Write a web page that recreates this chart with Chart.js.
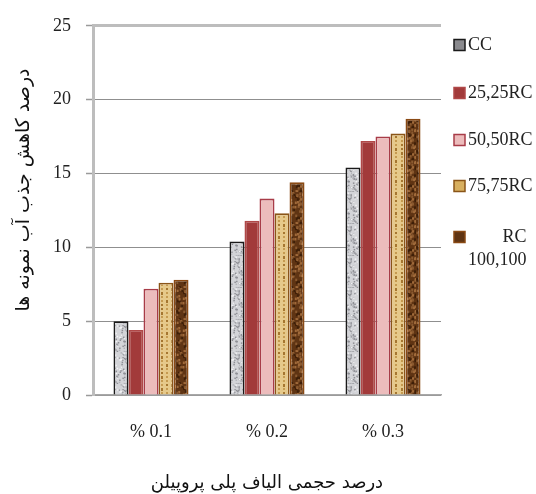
<!DOCTYPE html>
<html>
<head>
<meta charset="utf-8">
<script src="https://cdn.jsdelivr.net/npm/chart.js@4/dist/chart.umd.min.js"></script>
<style>
  html, body { margin: 0; padding: 0; background: #fff; }
  #wrap { width: 536px; height: 494px; }
</style>
</head>
<body>
<div id="wrap"><canvas id="c" width="536" height="494"></canvas></div>
<script>
// Fibre volume fractions (x categories)
const categories = ['% 0.1', '% 0.2', '% 0.3'];
// Mix names and the way each is written in the legend
const seriesNames = ['CC', '25,25RC', '50,50RC', '75,75RC', '100,100RC'];
const legendText = [['CC'], ['25,25RC'], ['50,50RC'], ['75,75RC'], ['RC', '100,100']];
// Reduction in water absorption (%) per mix
const ccValues     = [5.0, 10.4, 15.4];
const rc25Values   = [4.4, 11.8, 17.2];
const rc50Values   = [7.2, 13.3, 17.5];
const rc75Values   = [7.6, 12.3, 17.7];
const rc100Values  = [7.8, 14.4, 18.7];
const yTicks = [0, 5, 10, 15, 20, 25];

const xTitle = 'درصد حجمی الیاف پلی پروپیلن';
const yTitle = 'درصد کاهش جذب آب نمونه ها';

const serif = '"Liberation Serif", "Times New Roman", serif';
const persian = '"DejaVu Sans", "Noto Sans", sans-serif';

// Small deterministic hash used to scatter texture specks
function hash(i) {
  const v = Math.sin(i * 127.1 + 311.7) * 43758.5453;
  return v - Math.floor(v);
}

// Tileable textures for the bar fills
function texture(kind) {
  const w = 16, h = 32;
  const c = document.createElement('canvas');
  c.width = w; c.height = h;
  const g = c.getContext('2d');
  if (kind === 'granite') {
    g.fillStyle = '#d3d4d8'; g.fillRect(0, 0, w, h);
    for (let i = 0; i < 90; i++) {
      const x = hash(i) * w, y = hash(i + 500) * h, t = hash(i + 900);
      g.fillStyle = t < 0.45 ? '#8e8f95' : (t < 0.75 ? '#b2b3b8' : '#f4f4f6');
      g.fillRect(x, y, 1.5, 1.5);
    }
  } else if (kind === 'gold') {
    g.fillStyle = '#e6c98a'; g.fillRect(0, 0, w, h);
    for (let y = 0; y < h; y += 4) {
      for (let x = 1; x < w; x += 5) {
        const t = hash(x * 31 + y);
        g.fillStyle = t < 0.5 ? '#a57630' : '#c59a50';
        g.fillRect(x, y, 2, 2 + (t < 0.3 ? 1 : 0));
      }
    }
  } else if (kind === 'wood') {
    g.fillStyle = '#5f3413'; g.fillRect(0, 0, w, h);
    for (let i = 0; i < 70; i++) {
      const x = hash(i + 40) * w, y = hash(i + 640) * h, t = hash(i + 1200);
      g.fillStyle = t < 0.4 ? '#8a5a30' : (t < 0.7 ? '#3e1f08' : '#a06a3a');
      g.fillRect(x, y, 2, 2.5);
    }
  }
  return g.createPattern(c, 'repeat');
}

const fills = [texture('granite'), '#a23a3a', '#ecbcbc', texture('gold'), texture('wood')];
const borders = ['#1a1a1a', '#b04848', '#a83c48', '#8a5518', '#8a4a14'];
const swatchFills = ['#8a8a8e', '#a23a3a', '#ecbcbc', '#d8b060', '#5f3413'];
const values = [ccValues, rc25Values, rc50Values, rc75Values, rc100Values];

const datasets = seriesNames.map((name, i) => ({
  label: name,
  data: values[i],
  backgroundColor: fills[i],
  borderColor: borders[i],
  borderWidth: 1.8,
  borderSkipped: 'bottom',
  barPercentage: 1,
  categoryPercentage: 0.647
}));

// Legend column on the right and the vertical Persian axis title
const sideText = {
  id: 'sideText',
  afterDraw(chart) {
    const ctx = chart.ctx;
    ctx.save();
    const rowY = [45, 93, 140, 186, 237];
    const boxX = 454, boxS = 11, textX = 468;
    ctx.font = '18px ' + serif;
    ctx.textBaseline = 'middle';
    chart.data.datasets.forEach((ds, i) => {
      const y = rowY[i];
      ctx.fillStyle = swatchFills[i];
      ctx.fillRect(boxX, y - boxS / 2, boxS, boxS);
      ctx.lineWidth = 1.5;
      ctx.strokeStyle = borders[i];
      ctx.strokeRect(boxX, y - boxS / 2, boxS, boxS);
      const lines = legendText[i];
      ctx.fillStyle = '#222';
      if (lines.length === 1) {
        ctx.textAlign = 'left';
        ctx.fillText(lines[0], textX, y);
      } else {
        const wMax = Math.max(...lines.map(l => ctx.measureText(l).width));
        ctx.textAlign = 'right';
        lines.forEach((l, k) => ctx.fillText(l, textX + wMax, y + k * 23));
      }
    });
    // y axis title, rotated
    ctx.translate(24, 190);
    ctx.rotate(-Math.PI / 2);
    ctx.textAlign = 'center';
    ctx.textBaseline = 'middle';
    ctx.font = '19px ' + persian;
    ctx.fillStyle = '#111';
    ctx.fillText(yTitle, 0, 0);
    ctx.restore();
  }
};

new Chart(document.getElementById('c'), {
  type: 'bar',
  data: { labels: categories, datasets },
  plugins: [sideText],
  options: {
    responsive: false,
    animation: false,
    devicePixelRatio: 1,
    layout: { padding: { top: 24, right: 95, left: 0, bottom: 0 } },
    plugins: { legend: { display: false }, tooltip: { enabled: false } },
    scales: {
      x: {
        afterFit(s) { s.height = 99; },
        grid: { display: false },
        border: { display: true, color: '#a8a8a8', width: 1.5 },
        ticks: { color: '#222', font: { family: serif, size: 18 }, padding: 18 },
        title: {
          display: true, text: xTitle, color: '#111',
          font: { family: persian, size: 18 }, padding: { bottom: 0 }
        }
      },
      y: {
        min: 0, max: 25,
        afterFit(s) { s.width = 93; },
        afterBuildTicks(s) { s.ticks = yTicks.map(v => ({ value: v })); },
        grid: {
          color: ctx => ctx.tick && ctx.tick.value === 25 ? '#bdbdbd' : '#8f8f8f',
          lineWidth: ctx => ctx.tick && ctx.tick.value === 25 ? 3 : 1,
          tickLength: 7,
          tickColor: '#9a9a9a',
          tickWidth: 1.5
        },
        border: { display: true, color: '#bdbdbd', width: 3 },
        ticks: { color: '#222', font: { family: serif, size: 18 }, padding: 15 }
      }
    }
  }
});
</script>
</body>
</html>
